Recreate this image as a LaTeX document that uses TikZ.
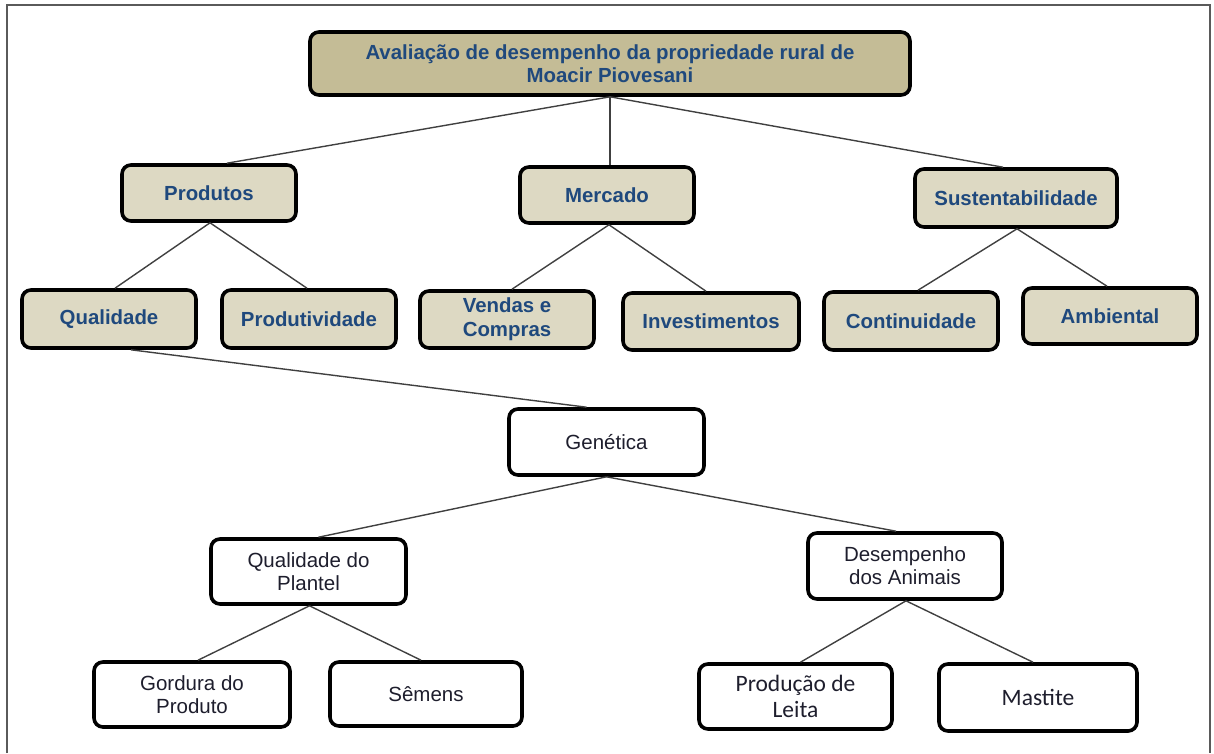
\documentclass[tikz,border=0pt]{standalone}
\usepackage{fontspec}
\setmainfont{Liberation Sans}
\newfontfamily\calibrifont{Carlito}
\begin{document}
\definecolor{titlefill}{RGB}{196,188,150}
\definecolor{tanfill}{RGB}{221,217,195}
\definecolor{navytext}{RGB}{31,73,125}
\definecolor{darktext}{RGB}{30,30,45}
\definecolor{framegray}{RGB}{90,90,90}
\begin{tikzpicture}[x=1pt,y=-1pt,
  box/.style={draw=black, line width=3.6pt, rounded corners=9pt, align=center,
    inner sep=0pt},
  titlebox/.style={box, fill=titlefill, text=navytext,
    font=\fontsize{20.4}{23}\selectfont\bfseries},
  catbox/.style={box, fill=tanfill, text=navytext,
    font=\fontsize{20.4}{24}\selectfont\bfseries},
  itembox/.style={box, fill=white, text=darktext,
    font=\fontsize{20.5}{23}\selectfont},
  calbox/.style={box, fill=white, text=darktext,
    font=\fontsize{23.5}{26}\selectfont\calibrifont},
  conn/.style={draw=black!75, line width=1.4pt}]

\useasboundingbox (0,0) rectangle (1214,753);
% outer frame (open at the bottom)
\draw[framegray, line width=2pt] (7,753) -- (7,5) -- (1210,5) -- (1210,753);

% top level
\node[titlebox, minimum width=600, minimum height=63] (top) at (610,63.5)
  {Avaliação de desempenho da propriedade rural de\\Moacir Piovesani};

% categories
\node[catbox, minimum width=174, minimum height=56] (prod) at (209,193) {Produtos};
\node[catbox, minimum width=174, minimum height=56] (merc) at (607,195) {Mercado};
\node[catbox, minimum width=202, minimum height=58] (sust) at (1016,198) {Sustentabilidade};

% sub-categories
\node[catbox, minimum width=174, minimum height=58] (qual) at (109,319) {Qualidade};
\node[catbox, minimum width=174, minimum height=58] (produt) at (309,319) {Produtividade};
\node[catbox, minimum width=174, minimum height=57] (vend) at (507,319.5) {Vendas e\\Compras};
\node[catbox, minimum width=176, minimum height=57] (inv) at (711,321.5) {Investimentos};
\node[catbox, minimum width=174, minimum height=58] (cont) at (911,321) {Continuidade};
\node[catbox, minimum width=174, minimum height=56] (amb) at (1110,316) {Ambiental};

% quality breakdown
\node[itembox, minimum width=195, minimum height=66] (gen) at (606.5,442) {Genética};
\node[itembox, minimum width=195, minimum height=65] (plant) at (308.5,571.5) {Qualidade do\\Plantel};
\node[itembox, minimum width=194, minimum height=66] (desemp) at (905,566) {Desempenho\\dos Animais};
\node[itembox, minimum width=196, minimum height=65] (gord) at (192,694.5) {Gordura do\\Produto};
\node[itembox, minimum width=192, minimum height=64] (semen) at (426,694) {Sêmens};
\node[calbox, minimum width=193, minimum height=65] (leite) at (795.5,696.5) {Produção de\\Leita};
\node[calbox, minimum width=198, minimum height=67] (mast) at (1038,697.5) {Mastite};

% connectors
\draw[conn] (top.south) -- ([xshift=18pt]prod.north);
\draw[conn] (top.south) -- ([xshift=3pt]merc.north);
\draw[conn] (top.south) -- ([xshift=-13pt]sust.north);

\draw[conn] ([xshift=1pt]prod.south) -- ([xshift=6pt]qual.north);
\draw[conn] ([xshift=1pt]prod.south) -- ([xshift=-2pt]produt.north);
\draw[conn] ([xshift=2pt]merc.south) -- ([xshift=5pt]vend.north);
\draw[conn] ([xshift=2pt]merc.south) -- ([xshift=-5pt]inv.north);
\draw[conn] ([xshift=1pt]sust.south) -- ([xshift=7pt]cont.north);
\draw[conn] ([xshift=1pt]sust.south) -- ([xshift=-3pt]amb.north);

\draw[conn] ([xshift=22pt]qual.south) -- ([xshift=-20pt]gen.north);
\draw[conn] (gen.south) -- ([xshift=10pt]plant.north);
\draw[conn] (gen.south) -- ([xshift=-9pt]desemp.north);
\draw[conn] ([xshift=1pt]plant.south) -- ([xshift=6pt]gord.north);
\draw[conn] ([xshift=1pt]plant.south) -- ([xshift=-5pt]semen.north);
\draw[conn] ([xshift=1pt]desemp.south) -- ([xshift=5pt]leite.north);
\draw[conn] ([xshift=1pt]desemp.south) -- ([xshift=-5pt]mast.north);
\end{tikzpicture}
\end{document}
